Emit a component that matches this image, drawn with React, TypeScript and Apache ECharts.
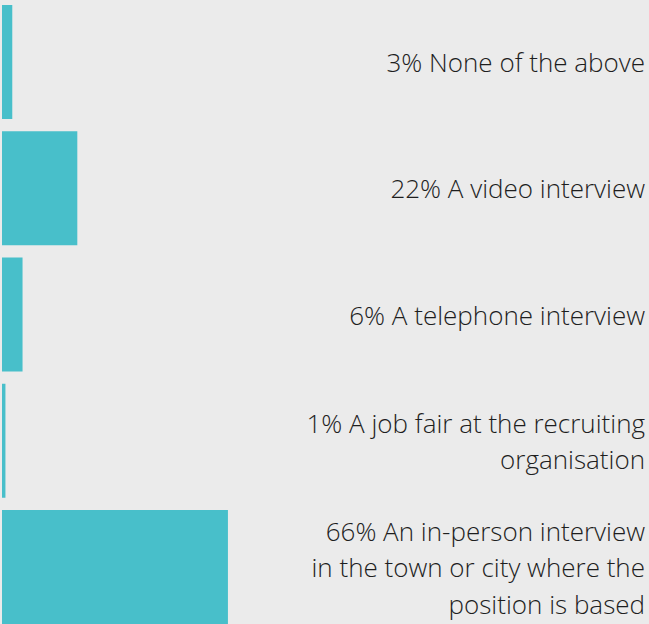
import React, { useEffect, useRef } from "react";
import * as echarts from "echarts";

const categories = [
  "None of the above",
  "A video interview",
  "A telephone interview",
  "A job fair at the recruiting\norganisation",
  "An in-person interview\nin the town or city where the\nposition is based",
];
const values = [3, 22, 6, 1, 66];

export default function App() {
  const ref = useRef<HTMLDivElement>(null);
  useEffect(() => {
    if (!ref.current) return;
    const chart = echarts.init(ref.current, undefined, { renderer: "svg" });
    chart.setOption({
      animation: false,
      backgroundColor: "#ebebeb",
      grid: {
        left: 2,
        right: 0,
        top: -1.1,
        height: 631.3,
        containLabel: false,
        outerBoundsMode: "none",
      },
      xAxis: {
        type: "value",
        min: 0,
        max: 189,
        show: false,
      },
      yAxis: {
        type: "category",
        data: categories,
        inverse: true,
        position: "right",
        axisLine: { show: false },
        axisTick: { show: false },
        splitLine: { show: false },
        axisLabel: {
          inside: true,
          align: "right",
          margin: 4,
          fontFamily: "Open Sans",
          fontWeight: 300,
          fontSize: 26,
          lineHeight: 36.5,
          color: "#1e1e1e",
          formatter: (v: string, i: number) => {
            const lines = v.split("\n");
            lines[0] = values[i] + "% " + lines[0];
            return lines.join("\n");
          },
        },
      },
      series: [
        {
          type: "bar",
          data: values,
          barCategoryGap: "9.7%",
          itemStyle: { color: "#48bfca" },
          silent: true,
        },
      ],
    });
    return () => chart.dispose();
  }, []);
  return (
    <div
      ref={ref}
      style={{ position: "fixed", left: 0, top: 0, width: 649, height: 624 }}
    />
  );
}
